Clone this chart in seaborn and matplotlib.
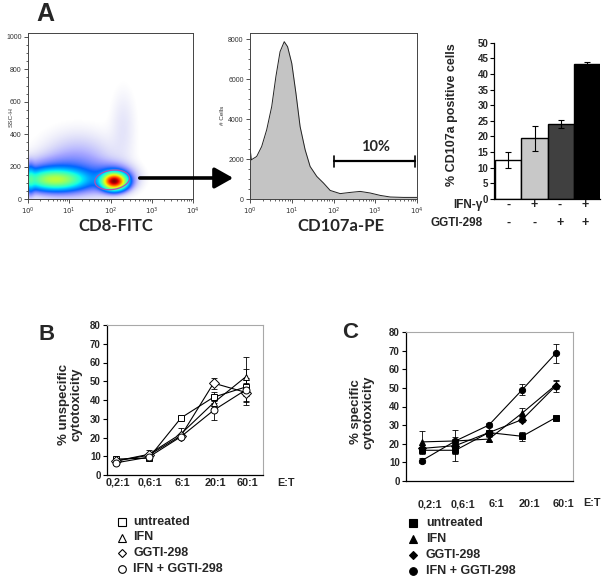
import numpy as np
import pandas as pd
import matplotlib
matplotlib.use("Agg")
import matplotlib.pyplot as plt
import seaborn as sns
from matplotlib.lines import Line2D
from matplotlib.patches import FancyArrowPatch
from matplotlib.ticker import FixedLocator, AutoMinorLocator
from matplotlib.colors import PowerNorm

# ---------------- data ----------------
# Panel A, dot plot: populations of SSC-H vs CD8-FITC (log10 position, SSC, spread, weight)
cluster_logx = [0.65, 0.70, 2.08, 2.05, 1.20, 2.30, 0.05]
cluster_ssc = [118, 135, 108, 125, 210, 450, 120]
cluster_sx = [0.42, 0.65, 0.16, 0.30, 0.55, 0.20, 0.06]
cluster_sy = [35, 65, 28, 50, 115, 150, 50]
cluster_weight = [0.30, 0.05, 1.0, 0.06, 0.018, 0.005, 0.08]

# Panel A, CD107a-PE histogram
hist_logx = [0.0, 0.005, 0.03, 0.16, 0.28, 0.40, 0.52, 0.62, 0.72, 0.82, 0.90, 1.00,
             1.10, 1.20, 1.32, 1.44, 1.60, 1.76, 1.92, 2.16, 2.40, 2.64, 2.88, 3.12,
             3.36, 3.68, 4.0]
hist_counts = [0, 2500, 1960, 2130, 2630, 3470, 4630, 6130, 7380, 7880, 7630, 6800,
               5300, 3630, 2470, 1630, 1130, 800, 430, 270, 330, 380, 300, 180,
               100, 80, 80]
gate_range = [100, 9100]
gate_level = 1880
gate_label = "10%"

# Panel A, bar chart
bar_labels = ["ctrl", "IFN", "GGTI", "IFN+GGTI"]
bar_values = [12.5, 19.5, 24.0, 43.3]
bar_errors = [2.5, 4.0, 1.3, 0.4]
bar_colors = ["#ffffff", "#c8c8c8", "#404040", "#000000"]
ifn_signs = ["-", "+", "-", "+"]
ggti_signs = ["-", "-", "+", "+"]

# Panels B and C
et_ratios = ["0,2:1", "0,6:1", "6:1", "20:1", "60:1"]
series_names = ["untreated", "IFN", "GGTI-298", "IFN + GGTI-298"]
series_markers = ["s", "^", "D", "o"]

b_untreated = [8.5, 9.0, 30.5, 41.5, 47.0]
b_ifn = [7.5, 11.0, 22.0, 38.5, 52.5]
b_ggti = [7.5, 10.5, 21.0, 49.0, 44.0]
b_combo = [6.5, 9.5, 20.5, 34.5, 45.5]
b_untreated_err = [1, 1, 1, 3, 9.5]
b_ifn_err = [1, 2.5, 3, 3, 10.5]
b_ggti_err = [1, 1, 1, 3, 5]
b_combo_err = [1, 1, 1, 5, 6]

c_untreated = [16.5, 16.5, 26.0, 24.0, 34.0]
c_ifn = [21.0, 21.5, 22.5, 36.5, 51.5]
c_ggti = [17.5, 19.0, 26.0, 33.0, 51.0]
c_combo = [11.0, 21.5, 30.0, 49.0, 68.5]
c_untreated_err = [2, 2, 1, 2.5, 1]
c_ifn_err = [6, 2, 1, 2.5, 2]
c_ggti_err = [2, 8.5, 1, 1.5, 3]
c_combo_err = [1.5, 1, 1, 3, 5]

# ---------------- figure ----------------
sns.set_theme(style="white")
plt.rcParams["font.family"] = ["Liberation Sans", "DejaVu Sans"]

W, H = 606, 578
fig = plt.figure(figsize=(W / 100, H / 100), dpi=100)


def fx(px):
    return px / W


def fy(py):
    return 1 - py / H


def box(l, t, r, b):
    return [fx(l), fy(b), (r - l) / W, (b - t) / H]


tiny = dict(fontsize=4.6, color="#333333")
decade_labels = [r"$10^{%d}$" % k for k in range(5)]
minor_log = [d + np.log10(k) for d in range(4) for k in range(2, 10)]

# ---- A1: dot plot (x axis in decades) ----
ax1 = fig.add_axes(box(28, 33, 193, 199))
gx = np.linspace(0, 4, 400)
gy = np.linspace(0, 1024, 400)
GX, GY = np.meshgrid(gx, gy)
dens = np.zeros_like(GX)
for lx, sy_, sx, ssy, w in zip(cluster_logx, cluster_ssc, cluster_sx, cluster_sy, cluster_weight):
    dens += w * np.exp(-0.5 * (((GX - lx) / sx) ** 2 + ((GY - sy_) / ssy) ** 2))
dens = dens / dens.max()
rgba = plt.get_cmap("jet")(PowerNorm(0.5, vmin=0, vmax=1)(dens))
rgba[..., 3] = np.clip((dens - 0.0008) / 0.05, 0, 1) ** 0.9
ax1.imshow(rgba, origin="lower", extent=(0, 4, 0, 1024), aspect="auto",
           interpolation="bilinear")
t = np.linspace(0, 2 * np.pi, 200)
ex = 0.42 * np.cos(t)
ey = 60 * np.sin(t)
ax1.plot(2.04 + ex, 118 + ey + ex * 25, color="#b050b0", lw=0.9)
ax1.set_xlim(0, 4)
ax1.set_ylim(0, 1024)
ax1.set_yticks([0, 200, 400, 600, 800, 1000])
ax1.yaxis.set_minor_locator(AutoMinorLocator(4))
ax1.set_xticks(range(5))
ax1.set_xticklabels(decade_labels)
ax1.xaxis.set_minor_locator(FixedLocator(minor_log))
ax1.tick_params(axis="both", which="major", labelsize=5, length=3, width=0.6,
                colors="#333333", pad=1.5, direction="out", left=True, bottom=True)
ax1.tick_params(axis="both", which="minor", length=1.5, width=0.5, left=True, bottom=True)
for s in ax1.spines.values():
    s.set_color("#444444")
    s.set_linewidth(0.7)
fig.text(fx(11), fy(117), "SSC-H", rotation=90, ha="center", va="center", **tiny)
fig.text(fx(116), fy(226), "CD8-FITC", ha="center", va="center", fontsize=12,
         fontweight="bold", family=["Lato", "DejaVu Sans"])

# ---- A2: histogram ----
ax2 = fig.add_axes(box(250, 33, 417, 199))
hx = [10 ** v for v in hist_logx]
ax2.fill_between(hx, 0, hist_counts, color="#c4c4c4", lw=0)
sns.lineplot(x=hx, y=hist_counts, color="#222222", lw=0.7, ax=ax2, sort=False)
ax2.set_xscale("log")
ax2.set_xlim(1, 1e4)
ax2.set_ylim(0, 8315)
ax2.set_yticks([0, 2000, 4000, 6000, 8000])
ax2.yaxis.set_minor_locator(AutoMinorLocator(4))
ax2.set_xticks([1, 10, 100, 1000, 10000])
ax2.set_xticklabels(decade_labels)
ax2.tick_params(axis="both", which="major", labelsize=5, length=3, width=0.6,
                colors="#333333", pad=1.5, direction="out", left=True, bottom=True)
ax2.tick_params(axis="both", which="minor", length=1.5, width=0.5, left=True, bottom=True)
for s in ax2.spines.values():
    s.set_color("#444444")
    s.set_linewidth(0.7)
ax2.plot(gate_range, [gate_level, gate_level], color="black", lw=1.6)
for gx_ in gate_range:
    ax2.plot([gx_, gx_], [gate_level - 260, gate_level + 260], color="black", lw=1.2)
ax2.text(1000, 2250, gate_label, ha="center", va="bottom", fontsize=10.5,
         fontweight="bold", family=["Lato", "DejaVu Sans"])
fig.text(fx(222), fy(115), "# Cells", rotation=90, ha="center", va="center", **tiny)
fig.text(fx(341), fy(226), "CD107a-PE", ha="center", va="center", fontsize=12,
         fontweight="bold", family=["Lato", "DejaVu Sans"])

arrow = FancyArrowPatch((fx(137), fy(178)), (fx(236), fy(178)), transform=fig.transFigure,
                        arrowstyle="-|>,head_length=0.8,head_width=0.45", mutation_scale=14,
                        lw=2.6, color="black")
fig.add_artist(arrow)

# ---- A3: bar chart ----
ax3 = fig.add_axes(box(494, 42.7, 600, 199))
sns.barplot(x=bar_labels, y=bar_values, hue=bar_labels, palette=bar_colors, width=1.0,
            edgecolor="black", linewidth=1.0, legend=False, ax=ax3, saturation=1)
ax3.errorbar(range(4), bar_values, yerr=bar_errors, fmt="none", ecolor="black",
             elinewidth=0.8, capsize=2.2, capthick=0.8)
ax3.set_xlim(-0.55, 3.5)
ax3.set_ylim(0, 50)
ax3.set_yticks(range(0, 51, 5))
ax3.set_xticks([])
ax3.set_xlabel("")
ax3.set_ylabel("")
sns.despine(ax=ax3)
ax3.spines["left"].set_color("black")
ax3.spines["bottom"].set_color("black")
ax3.spines["left"].set_linewidth(0.9)
ax3.spines["bottom"].set_linewidth(0.9)
ax3.tick_params(axis="y", labelsize=7, length=3, width=0.8, pad=1, left=True, color="black")
for lab in ax3.get_yticklabels():
    lab.set_fontweight("bold")
fig.text(fx(452), fy(115), "% CD107a positive cells", rotation=90, ha="center",
         va="center", fontsize=9, fontweight="bold")
fig.text(fx(483), fy(205), "IFN-γ", ha="right", va="center", fontsize=8.5, fontweight="bold")
fig.text(fx(483), fy(223), "GGTI-298", ha="right", va="center", fontsize=8.5, fontweight="bold")
for i, (s1, s2) in enumerate(zip(ifn_signs, ggti_signs)):
    xpix = 496 + 25.5 * i + 13
    fig.text(fx(xpix), fy(205), s1, ha="center", va="center", fontsize=9, fontweight="bold")
    fig.text(fx(xpix), fy(223), s2, ha="center", va="center", fontsize=9, fontweight="bold")

fig.text(fx(45), fy(14), "A", ha="center", va="center", fontsize=18, fontweight="bold")


# ---- B and C ----
def line_panel(ax, values, errors, filled, ms, xlim, label_offset):
    pos = list(range(len(et_ratios)))
    rows = []
    for name, vals in zip(series_names, values):
        for p, v in zip(pos, vals):
            rows.append({"pos": p, "value": v, "series": name})
    df = pd.DataFrame(rows)
    for name, vals, errs in zip(series_names, values, errors):
        ax.errorbar(pos, vals, yerr=errs, fmt="none", ecolor="black", elinewidth=0.6,
                    capsize=2, capthick=0.6, zorder=2)
    sns.lineplot(data=df, x="pos", y="value", style="series",
                 markers=dict(zip(series_names, series_markers)),
                 dashes=False, color="black", lw=0.8, markersize=ms,
                 markerfacecolor="black" if filled else "white", markeredgecolor="black",
                 markeredgewidth=0.7, legend=False, ax=ax, sort=False, zorder=3)
    ax.set_xlim(*xlim)
    ax.set_ylim(0, 80)
    ax.set_yticks(range(0, 81, 10))
    ax.set_xticks([p + label_offset for p in pos])
    ax.set_xticklabels(et_ratios)
    ax.set_xlabel("")
    ax.set_ylabel("")
    ax.tick_params(axis="y", labelsize=7, length=3, width=0.8, pad=1.5, left=True, color="black")
    ax.tick_params(axis="x", labelsize=7.8, length=0)
    for lab in ax.get_yticklabels() + ax.get_xticklabels():
        lab.set_fontweight("bold")
    for k in ["left", "bottom"]:
        ax.spines[k].set_color("black")
        ax.spines[k].set_linewidth(0.9)
    for k in ["top", "right"]:
        ax.spines[k].set_color("#a8a8a8")
        ax.spines[k].set_linewidth(0.8)


axB = fig.add_axes(box(107, 325, 263, 475))
line_panel(axB, [b_untreated, b_ifn, b_ggti, b_combo],
           [b_untreated_err, b_ifn_err, b_ggti_err, b_combo_err], False, 5,
           (-0.28, 4.52), 0.05)
axB.tick_params(axis="x", pad=2)
fig.text(fx(286), fy(483), "E:T", ha="center", va="center", fontsize=7.8, fontweight="bold")
fig.text(fx(70.5), fy(404), "% unspecific\ncytotoxicity", rotation=90, ha="center",
         va="center", fontsize=9.5, fontweight="bold", linespacing=1.05)
fig.text(fx(47), fy(335), "B", ha="center", va="center", fontsize=16, fontweight="bold")

axC = fig.add_axes(box(406, 332, 573, 481))
line_panel(axC, [c_untreated, c_ifn, c_ggti, c_combo],
           [c_untreated_err, c_ifn_err, c_ggti_err, c_combo_err], True, 4.5,
           (-0.48, 4.52), 0.22)
axC.tick_params(axis="x", pad=13)
fig.text(fx(592), fy(503), "E:T", ha="center", va="center", fontsize=7.8, fontweight="bold")
fig.text(fx(362.5), fy(412), "% specific\ncytotoxicity", rotation=90, ha="center",
         va="center", fontsize=9.5, fontweight="bold", linespacing=1.05)
fig.text(fx(350), fy(332), "C", ha="center", va="center", fontsize=16, fontweight="bold")


# ---- legends ----
def legend_rows(mx, tx, ys, filled):
    for name, m, y in zip(series_names, series_markers, ys):
        fig.add_artist(Line2D([fx(mx)], [fy(y)], transform=fig.transFigure, marker=m,
                              markersize=5.5 if m != "D" else 4.5,
                              markerfacecolor="black" if filled else "white",
                              markeredgecolor="black", markeredgewidth=0.8, linestyle="none"))
        fig.text(fx(tx), fy(y), name, ha="left", va="center", fontsize=9, fontweight="bold")


legend_rows(122, 133, [522, 537.5, 553, 569], False)
legend_rows(413, 426, [523, 539, 555, 570.5], True)

fig.savefig("out.png", dpi=100)
